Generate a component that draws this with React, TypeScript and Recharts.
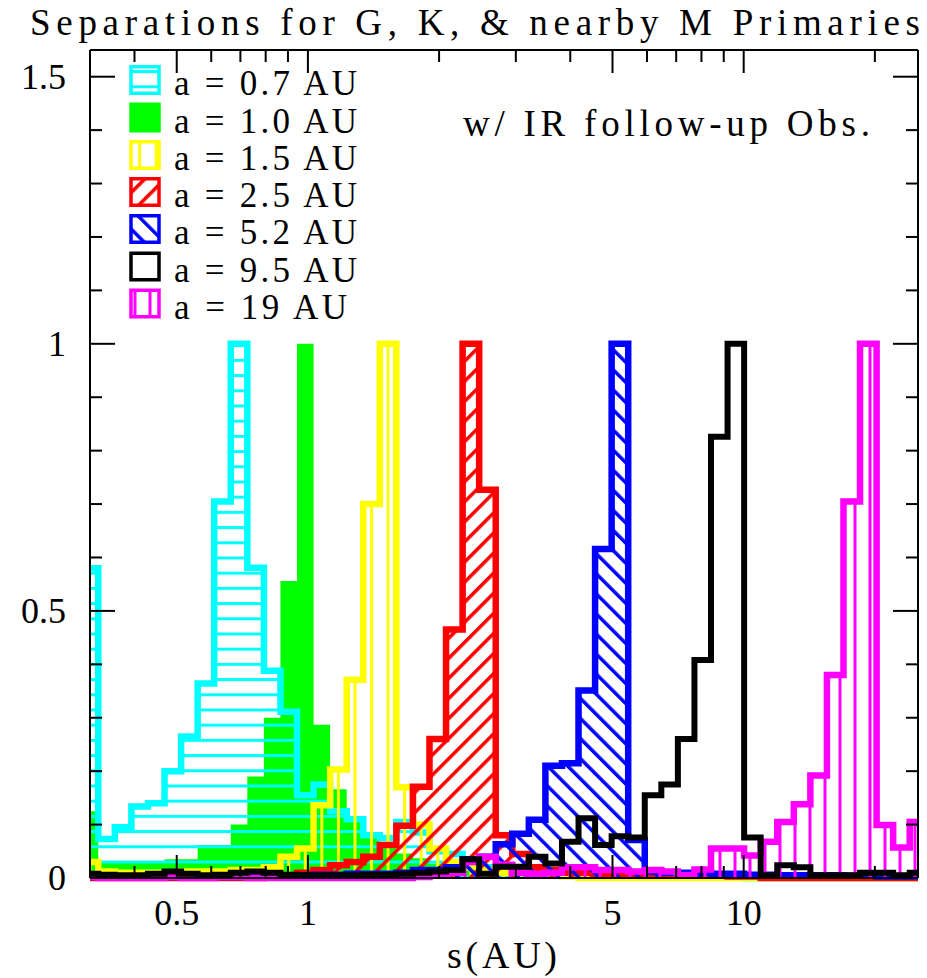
import React from 'react';
import { ComposedChart, Area, XAxis, YAxis } from 'recharts';

// bin centres of the log-spaced histogram, s in AU
const sepAU = [
  0.3162, 0.3451, 0.3767, 0.4111, 0.4487, 0.4898, 0.5346, 0.5834, 0.6368, 0.695,
  0.7586, 0.8279, 0.9036, 0.9863, 1.0765, 1.1749, 1.2823, 1.3996, 1.5276, 1.6672,
  1.8197, 1.9861, 2.1677, 2.3659, 2.5823, 2.8184, 3.0761, 3.3574, 3.6644, 3.9994,
  4.3652, 4.7643, 5.2, 5.6754, 6.1944, 6.7608, 7.379, 8.0538, 8.7902, 9.594,
  10.4713, 11.4288, 12.4738, 13.6144, 14.8594, 16.2181, 17.7011, 19.3197, 21.0863, 23.0144,
  25.1189,
];

const a07 = [
  0.58, 0.073, 0.095, 0.134, 0.14, 0.2, 0.265, 0.364, 0.705, 1.0,
  0.581, 0.388, 0.311, 0.155, 0.175, 0.125, 0.11, 0.08, 0.075, 0.105,
  0.085, 0.05, 0.045, 0.03, 0.02, 0.015, 0.01, 0.01, 0.006, 0.005,
  0.01, 0.005, 0.004, 0.004, 0.003, 0.003, 0.002, 0.002, 0.002, 0.002,
  0, 0, 0, 0, 0, 0, 0, 0, 0, 0,
  0,
];
const a10 = [
  0.125, 0.03, 0.03, 0.028, 0.03, 0.035, 0.035, 0.062, 0.062, 0.1,
  0.19, 0.3, 0.556, 1.0, 0.287, 0.166, 0.115, 0.078, 0.06, 0.046,
  0.037, 0.027, 0.02, 0.015, 0.012, 0.01, 0.008, 0.006, 0.005, 0.004,
  0.003, 0.002, 0, 0, 0, 0, 0, 0, 0, 0,
  0, 0, 0, 0, 0, 0, 0, 0, 0, 0,
  0,
];
const a15 = [
  0.03, 0.012, 0.01, 0.01, 0.01, 0.01, 0.012, 0.012, 0.012, 0.015,
  0.015, 0.02, 0.04, 0.055, 0.136, 0.203, 0.371, 0.7, 1.0, 0.17,
  0.1, 0.055, 0.03, 0.02, 0.015, 0.01, 0.01, 0.005, 0.005, 0.003,
  0, 0, 0, 0, 0, 0, 0, 0, 0, 0,
  0, 0, 0, 0, 0, 0, 0, 0, 0, 0,
  0,
];
const a25 = [
  0, 0, 0, 0, 0, 0, 0, 0, 0, 0,
  0, 0.003, 0.005, 0.01, 0.015, 0.024, 0.03, 0.04, 0.062, 0.098,
  0.171, 0.26, 0.465, 1.0, 0.727, 0.08, 0.045, 0.02, 0.015, 0.01,
  0.01, 0.005, 0.005, 0.005, 0.005, 0.005, 0.005, 0.004, 0.004, 0.003,
  0.003, 0, 0, 0, 0, 0, 0, 0, 0, 0,
  0,
];
const a52 = [
  0.002, 0.002, 0.002, 0.002, 0.002, 0.002, 0.002, 0.002, 0.002, 0.002,
  0.002, 0.004, 0.005, 0.005, 0.006, 0.006, 0.008, 0.008, 0.008, 0.01,
  0.015, 0.015, 0.02, 0.035, 0.04, 0.063, 0.083, 0.109, 0.21, 0.215,
  0.351, 0.616, 1.0, 0.071, 0.012, 0.01, 0.01, 0.01, 0.008, 0.008,
  0.006, 0.006, 0.005, 0.005, 0.005, 0.005, 0.004, 0.004, 0.003, 0.003,
  0.003,
];
const a95 = [
  0.008, 0.006, 0.005, 0.005, 0.008, 0.012, 0.008, 0.005, 0.006, 0.01,
  0.012, 0.01, 0.006, 0.005, 0.005, 0.005, 0.005, 0.006, 0.006, 0.008,
  0.01, 0.012, 0.015, 0.035, 0.008, 0.021, 0.021, 0.04, 0.027, 0.068,
  0.112, 0.062, 0.078, 0.076, 0.155, 0.175, 0.26, 0.408, 0.826, 1.0,
  0.076, 0.005, 0.024, 0.02, 0.005, 0.005, 0.005, 0.01, 0.01, 0.005,
  0.01,
];
const a19 = [
  0.002, 0, 0, 0, 0, 0.002, 0, 0, 0.002, 0.002,
  0, 0, 0, 0, 0, 0, 0, 0, 0, 0,
  0.002, 0.005, 0.01, 0.03, 0.04, 0.025, 0.01, 0.008, 0.01, 0.02,
  0.02, 0.015, 0.015, 0.012, 0.015, 0.012, 0.005, 0.016, 0.055, 0.055,
  0.042, 0.068, 0.105, 0.138, 0.192, 0.38, 0.705, 1.0, 0.099, 0.057,
  0.105,
];

const xTicks = [0.4, 0.5, 0.6, 0.7, 0.8, 0.9, 1, 2, 3, 4, 5, 6, 7, 8, 9, 10, 20];
const xLabelled = [0.5, 1, 5, 10];
const yTicks = [0, 0.1, 0.2, 0.3, 0.4, 0.5, 0.6, 0.7, 0.8, 0.9, 1, 1.1, 1.2, 1.3, 1.4, 1.5];
const yLabelled = [0, 0.5, 1, 1.5];

const TITLE = 'Separations for G, K, & nearby M Primaries';
const NOTE = 'w/ IR follow-up Obs.';
const XTITLE = 's(AU)';

const series = [
  { key: 'a10', label: 'a = 1.0 AU', color: '#00ff00', fill: '#00ff00', width: 0, legendRow: 1 },
  { key: 'a07', label: 'a = 0.7 AU', color: '#00ffff', fill: 'url(#hatchCyan)', width: 6.5, legendRow: 0 },
  { key: 'a15', label: 'a = 1.5 AU', color: '#ffff00', fill: 'url(#hatchYellow)', width: 6.5, legendRow: 2 },
  { key: 'a25', label: 'a = 2.5 AU', color: '#ff0000', fill: 'url(#hatchRed)', width: 6.5, legendRow: 3 },
  { key: 'a52', label: 'a = 5.2 AU', color: '#0000ff', fill: 'url(#hatchBlue)', width: 6.5, legendRow: 4 },
  { key: 'a19', label: 'a = 19 AU', color: '#ff00ff', fill: 'url(#hatchMagenta)', width: 6.5, legendRow: 6 },
  { key: 'a95', label: 'a = 9.5 AU', color: '#000000', fill: 'none', width: 6, legendRow: 5 },
];

const data = sepAU.map((s, i) => ({
  s,
  a07: a07[i],
  a10: a10[i],
  a15: a15[i],
  a25: a25[i],
  a52: a52[i],
  a95: a95[i],
  a19: a19[i],
}));

const FONT = '"Liberation Serif", "Times New Roman", serif';

const BottomTick = (props: any) => {
  const { x, y, payload } = props;
  const v = payload.value;
  const lab = xLabelled.indexOf(v) >= 0;
  return (
    <g>
      <line x1={x} y1={y} x2={x} y2={y - (lab ? 23 : 12)} stroke="#000" strokeWidth={2} />
      {lab && (
        <text x={x} y={y + 47} textAnchor="middle" fontFamily={FONT} fontSize={36} fill="#000">
          {String(v)}
        </text>
      )}
    </g>
  );
};
const TopTick = (props: any) => {
  const { x, y, payload } = props;
  const lab = xLabelled.indexOf(payload.value) >= 0;
  return <line x1={x} y1={y} x2={x} y2={y + (lab ? 23 : 12)} stroke="#000" strokeWidth={2} />;
};
const LeftTick = (props: any) => {
  const { x, y, payload } = props;
  const v = payload.value;
  const lab = yLabelled.indexOf(v) >= 0;
  return (
    <g>
      <line x1={x} y1={y} x2={x + (lab ? 25 : 12)} y2={y} stroke="#000" strokeWidth={2} />
      {lab && (
        <text x={x - 24} y={y + 12} textAnchor="end" fontFamily={FONT} fontSize={36} fill="#000">
          {String(v)}
        </text>
      )}
    </g>
  );
};
const RightTick = (props: any) => {
  const { x, y, payload } = props;
  const lab = yLabelled.indexOf(payload.value) >= 0;
  return <line x1={x} y1={y} x2={x - (lab ? 25 : 12)} y2={y} stroke="#000" strokeWidth={2} />;
};

const legendBaselines = [95, 132.5, 170, 207, 244, 281.5, 318.5];

export default function App() {
  const xDomain = [sepAU[0], sepAU[sepAU.length - 1]];
  const axisLine = { stroke: '#000', strokeWidth: 2 };
  const legendItems = [...series].sort((p, q) => p.legendRow - q.legendRow);
  return (
    <div style={{ position: 'absolute', left: 0, top: 0, width: 927, height: 978, background: '#fff' }}>
      <svg width={0} height={0} style={{ position: 'absolute' }}>
        <defs>
          <pattern id="hatchCyan" patternUnits="userSpaceOnUse" x={0} y={860.5} width={20} height={15.2}>
            <rect x={0} y={0} width={20} height={3} fill="#00ffff" />
          </pattern>
          <pattern id="hatchYellow" patternUnits="userSpaceOnUse" x={88.5} y={0} width={16.56} height={20}>
            <rect x={0} y={0} width={3} height={20} fill="#ffff00" />
          </pattern>
          <pattern id="hatchMagenta" patternUnits="userSpaceOnUse" x={88.5} y={0} width={15} height={20}>
            <rect x={0} y={0} width={3} height={20} fill="#ff00ff" />
          </pattern>
          <pattern id="hatchRed" patternUnits="userSpaceOnUse" width={14.2} height={14.2} patternTransform="rotate(45)">
            <rect x={0} y={0} width={3.5} height={14.2} fill="#ff0000" />
          </pattern>
          <pattern id="hatchBlue" patternUnits="userSpaceOnUse" width={14.2} height={14.2} patternTransform="rotate(-45)">
            <rect x={0} y={0} width={3.5} height={14.2} fill="#0000ff" />
          </pattern>
        </defs>
      </svg>
      <ComposedChart
        width={927}
        height={978}
        data={data}
        margin={{ top: 40, right: 0, bottom: 40, left: 30 }}
      >
        <XAxis
          xAxisId="b"
          dataKey="s"
          type="number"
          scale="log"
          domain={xDomain}
          allowDataOverflow
          ticks={xTicks}
          interval={0}
          tick={<BottomTick />}
          tickLine={false}
          tickSize={0}
          tickMargin={0}
          axisLine={axisLine}
          height={60}
        />
        <XAxis
          xAxisId="t"
          orientation="top"
          dataKey="s"
          type="number"
          scale="log"
          domain={xDomain}
          allowDataOverflow
          ticks={xTicks}
          interval={0}
          tick={<TopTick />}
          tickLine={false}
          tickSize={0}
          tickMargin={0}
          axisLine={axisLine}
          height={10}
        />
        <YAxis
          yAxisId="l"
          type="number"
          domain={[0, 1.55]}
          ticks={yTicks}
          interval={0}
          tick={<LeftTick />}
          tickLine={false}
          tickSize={0}
          tickMargin={0}
          axisLine={axisLine}
          width={60}
        />
        <YAxis
          yAxisId="r"
          orientation="right"
          type="number"
          domain={[0, 1.55]}
          ticks={yTicks}
          interval={0}
          tick={<RightTick />}
          tickLine={false}
          tickSize={0}
          tickMargin={0}
          axisLine={axisLine}
          width={9}
        />
        {series.map((sr) => (
          <Area
            key={sr.key}
            xAxisId={sr.key === 'a95' ? 't' : 'b'}
            yAxisId={sr.key === 'a95' ? 'r' : 'l'}
            dataKey={sr.key}
            name={sr.label}
            type="step"
            fill={sr.fill}
            fillOpacity={1}
            stroke={sr.width > 0 ? sr.color : 'none'}
            strokeWidth={sr.width}
            strokeLinejoin="miter"
            dot={false}
            activeDot={false}
            isAnimationActive={false}
          />
        ))}
      </ComposedChart>
      <svg
        width={927}
        height={978}
        style={{ position: 'absolute', left: 0, top: 0, pointerEvents: 'none' }}
      >
        <text x={30} y={35} fontFamily={FONT} fontSize={37} textLength={890} lengthAdjust="spacing" fill="#000">
          {TITLE}
        </text>
        <text x={463} y={136} fontFamily={FONT} fontSize={37} textLength={407} lengthAdjust="spacing" fill="#000">
          {NOTE}
        </text>
        <text x={502} y={968} textAnchor="middle" fontFamily={FONT} fontSize={38} textLength={110} lengthAdjust="spacing" fill="#000">
          {XTITLE}
        </text>
        {legendItems.map((sr, i) => {
          const base = legendBaselines[i];
          return (
            <g key={sr.key}>
              <rect
                x={131}
                y={base - 28.25}
                width={28}
                height={26.5}
                fill={sr.fill}
                stroke={sr.color}
                strokeWidth={3.5}
              />
              <text
                x={174}
                y={base}
                fontFamily={FONT}
                fontSize={35}
                textLength={sr.label.length === 10 ? 183 : 173}
                lengthAdjust="spacing"
                fill="#000"
              >
                {sr.label}
              </text>
            </g>
          );
        })}
      </svg>
    </div>
  );
}
